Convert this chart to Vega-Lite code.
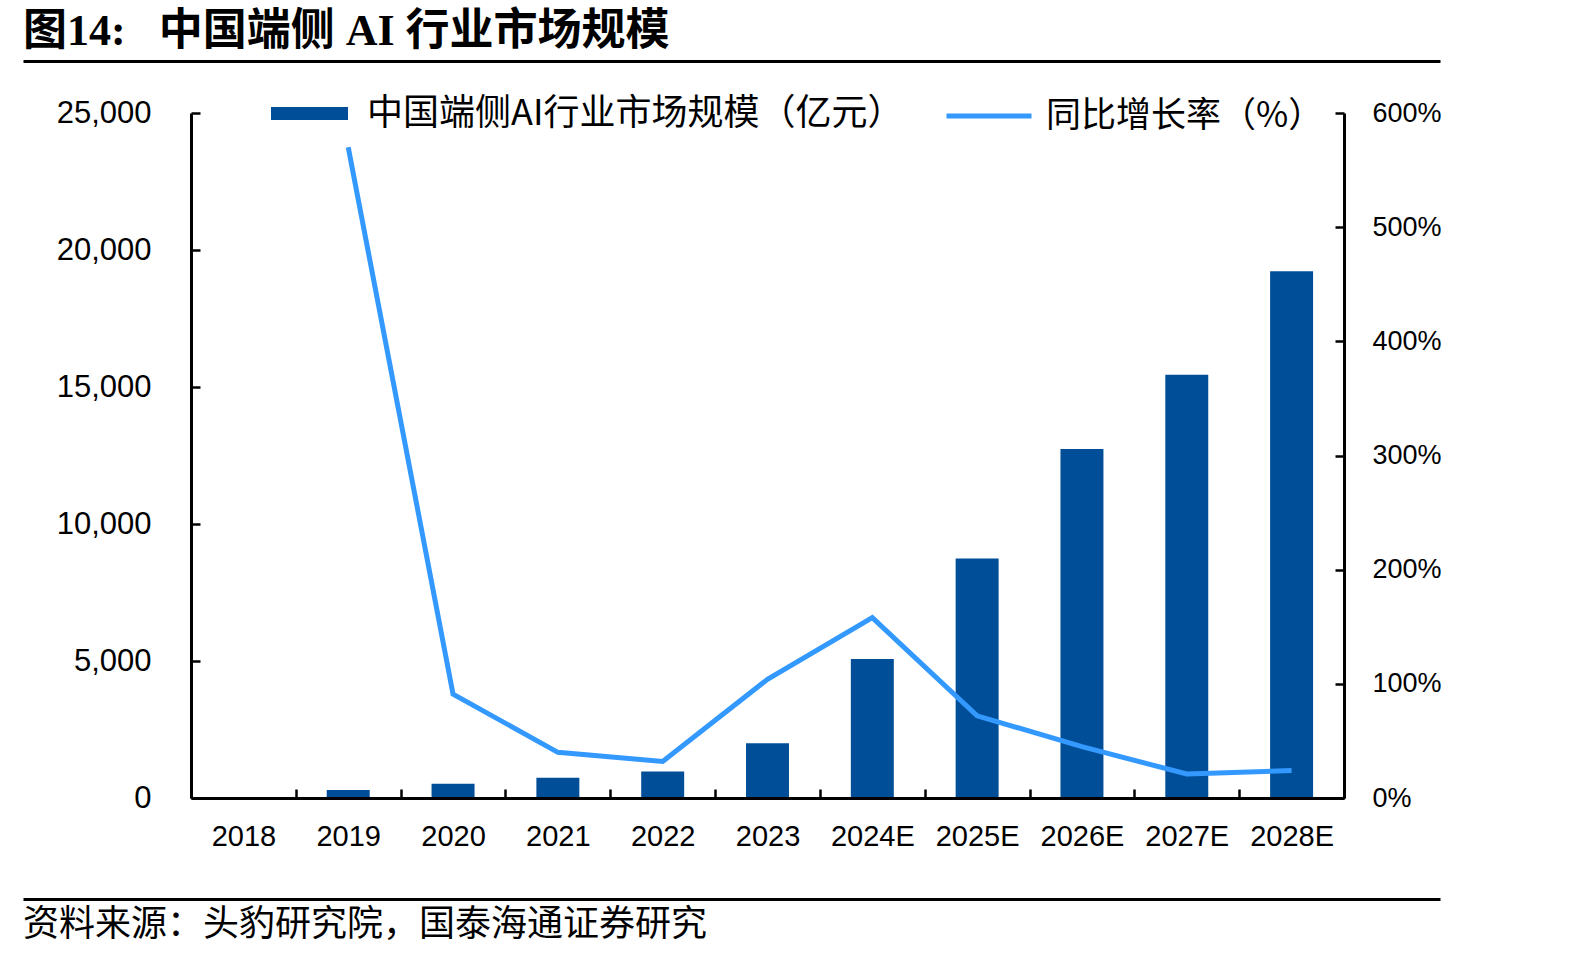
{
  "$schema": "https://vega.github.io/schema/vega-lite/v6.json",
  "padding": {"left": 22, "top": 10, "right": 0, "bottom": 10},
  "background": "white",
  "spacing": 0,
  "columns": 1,
  "align": "none",
  "bounds": "full",
  "config": {
    "view": {"stroke": null},
    "axis": {"grid": false, "labelColor": "black", "domainColor": "black", "tickColor": "black", "titleColor": "black"}
  },
  "concat": [
    {
      "width": 1417,
      "height": 1,
      "title": {"text": "图14:\u2002 中国端侧 AI 行业市场规模", "anchor": "start", "fontSize": 44, "fontWeight": "bold", "font": "'Liberation Serif', 'Noto Sans CJK SC'", "color": "black", "offset": 6},
      "data": {"values": [{}]},
      "mark": {"type": "rule", "opacity": 0},
      "encoding": {
        "x": {"datum": 0, "type": "quantitative", "scale": {"domain": [0, 1]},
          "axis": {"orient": "bottom", "domain": true, "domainWidth": 3, "ticks": false, "labels": false, "title": null, "minExtent": 36, "maxExtent": 36}}
      }
    },
    {
      "spacing": 0,
      "bounds": "flush",
      "hconcat": [
        {
          "width": 168,
          "height": 685,
          "data": {"values": [{}]},
          "mark": {"type": "rule", "opacity": 0},
          "encoding": {}
        },
        {
          "width": 1153,
          "height": 685,
          "data": {"values": [
            {"year": "2018", "size": 40, "yoy": null},
            {"year": "2019", "size": 296, "yoy": 570},
            {"year": "2020", "size": 519, "yoy": 91},
            {"year": "2021", "size": 741, "yoy": 40},
            {"year": "2022", "size": 963, "yoy": 32},
            {"year": "2023", "size": 2000, "yoy": 104},
            {"year": "2024E", "size": 5074, "yoy": 158},
            {"year": "2025E", "size": 8741, "yoy": 72},
            {"year": "2026E", "size": 12741, "yoy": 45},
            {"year": "2027E", "size": 15444, "yoy": 21},
            {"year": "2028E", "size": 19222, "yoy": 24}
          ]},
          "encoding": {
            "x": {"field": "year", "type": "nominal", "sort": null,
              "scale": {"paddingInner": 0, "paddingOuter": 0},
              "axis": {"title": null, "labelAngle": 0, "tickBand": "extent", "tickSize": -9, "tickWidth": 2.5, "domainWidth": 3,
                "labelFont": "'Liberation Sans Narrow', 'Liberation Sans'", "labelFontSize": 29, "labelPadding": 33, "minExtent": 60, "maxExtent": 60, "zindex": 1}}
          },
          "layer": [
            {
              "mark": {"type": "bar", "width": {"band": 0.41}},
              "encoding": {
                "y": {"field": "size", "type": "quantitative", "scale": {"domain": [0, 25000]},
                  "axis": {"title": null, "values": [0, 5000, 10000, 15000, 20000, 25000], "format": ",.0f", "tickSize": -9, "tickWidth": 2.5, "domainWidth": 3,
                    "labelFont": "'Liberation Sans'", "labelFontSize": 31, "labelPadding": 49, "zindex": 1}},
                "fill": {"datum": "中国端侧AI行业市场规模（亿元）", "type": "nominal", "scale": {"range": ["#004E98"]},
                  "legend": {"orient": "none", "legendX": 248, "legendY": 15, "title": null, "symbolType": "M-1,-0.17H1V0.17H-1Z", "symbolSize": 5929, "symbolStrokeWidth": 0, "symbolOpacity": 1,
                    "labelFont": "Noto Sans CJK SC", "labelFontSize": 36, "labelColor": "black", "labelOffset": 19, "labelLimit": 0}}
              }
            },
            {
              "mark": {"type": "line", "strokeWidth": 5},
              "encoding": {
                "y": {"field": "yoy", "type": "quantitative", "scale": {"domain": [0, 600]},
                  "axis": {"orient": "right", "title": null, "values": [0, 100, 200, 300, 400, 500, 600], "labelExpr": "datum.value + '%'", "tickSize": -9, "tickWidth": 2.5, "domainWidth": 3,
                    "labelFont": "'Liberation Sans Narrow', 'Liberation Sans'", "labelFontSize": 27, "labelPadding": 37, "zindex": 1}},
                "stroke": {"datum": "同比增长率（%）", "type": "nominal", "scale": {"range": ["#3399FF"]},
                  "legend": {"orient": "none", "legendX": 921, "legendY": 11, "title": null, "symbolType": "stroke", "symbolSize": 7225, "symbolStrokeWidth": 5,
                    "labelFont": "Noto Sans CJK SC", "labelFontSize": 35, "labelColor": "black", "labelOffset": 12, "labelLimit": 0}}
              }
            }
          ],
          "resolve": {"scale": {"y": "independent"}}
        }
      ]
    },
    {
      "width": 1417,
      "height": 1,
      "title": {"text": "资料来源：头豹研究院，国泰海通证券研究", "orient": "bottom", "anchor": "start", "fontSize": 36, "fontWeight": "normal", "font": "Noto Sans CJK SC", "color": "black", "offset": 8},
      "data": {"values": [{}]},
      "mark": {"type": "rule", "opacity": 0},
      "encoding": {
        "x": {"datum": 0, "type": "quantitative", "scale": {"domain": [0, 1]},
          "axis": {"orient": "top", "domain": true, "domainWidth": 3, "ticks": false, "labels": false, "title": null, "minExtent": 41, "maxExtent": 41}}
      }
    }
  ]
}
